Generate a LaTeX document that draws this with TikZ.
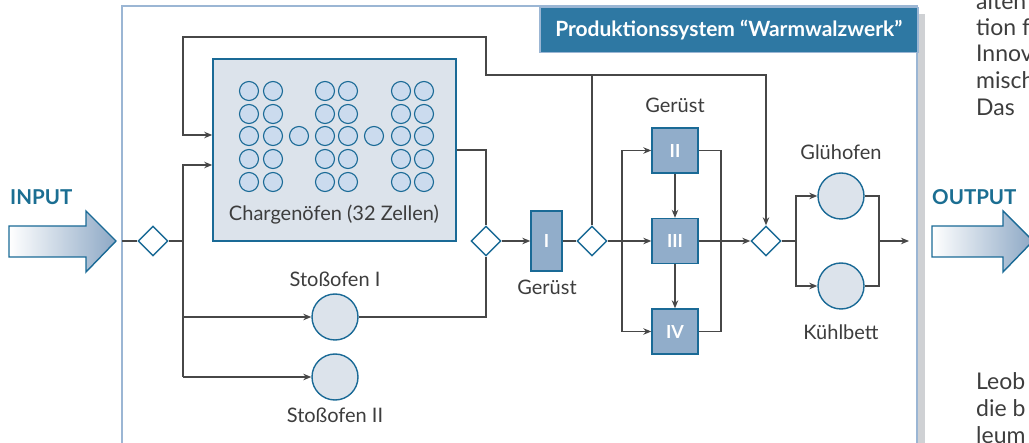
\documentclass[tikz,border=0pt]{standalone}
\usepackage{fontspec}
\setmainfont{Lato}
\usetikzlibrary{shapes.geometric,arrows.meta,calc}
\definecolor{teal}{RGB}{26,106,150}
\definecolor{framecol}{RGB}{155,182,212}
\definecolor{shadowcol}{RGB}{207,209,212}
\definecolor{titlefill}{RGB}{46,120,163}
\definecolor{boxfill}{RGB}{220,227,235}
\definecolor{cellfill}{RGB}{203,219,238}
\definecolor{gfill}{RGB}{145,173,202}
\definecolor{linecol}{RGB}{71,71,71}
\definecolor{txtcol}{RGB}{61,61,61}
\definecolor{iotext}{RGB}{27,110,146}
\definecolor{arrowend}{RGB}{141,168,197}
\begin{document}
\begin{tikzpicture}[x=1pt,y=-1pt,
  lbl/.style={text=txtcol,font=\fontsize{20}{22}\selectfont,inner sep=0pt},
  pagetxt/.style={text=txtcol,font=\fontsize{23}{26}\selectfont,inner sep=0pt,anchor=west},
  furn/.style={circle,draw=teal,line width=1.4pt,fill=boxfill,minimum size=46pt,inner sep=0pt},
  cell/.style={circle,draw=teal,line width=1.1pt,fill=cellfill,minimum size=19pt,inner sep=0pt},
  gbox/.style={rectangle,draw=teal,line width=1.4pt,fill=gfill,inner sep=0pt,text=white,font=\fontsize{18}{20}\selectfont\bfseries},
  dia/.style={diamond,draw=teal,line width=1.4pt,fill=white,minimum width=30pt,minimum height=30pt,inner sep=0pt},
  conn/.style={draw=linecol,line width=1.1pt},
  arr/.style={conn,-{Stealth[length=8pt,width=6.5pt]}},
  iolbl/.style={text=iotext,font=\fontsize{20.5}{24}\selectfont\bfseries,anchor=west,inner sep=0pt},
  bigarrow/.style={draw=teal,line width=1.4pt,left color=white,right color=arrowend}
]
\useasboundingbox (0,0) rectangle (1029,443);
\clip (0,0) rectangle (1029,443);
% frame with shadow
\fill[shadowcol] (917,14) rectangle (925,450);
\draw[framecol,line width=2.2pt,fill=white] (122,6) rectangle (917,460);
% title
\node[draw=framecol,line width=1.5pt,fill=titlefill,minimum width=378pt,minimum height=45pt,inner sep=0pt,anchor=north west,text=white,font=\fontsize{21}{24}\selectfont\bfseries] (title) at (539,7) {Produktionssystem “Warmwalzwerk”};
% input/output arrows
\path[bigarrow] (9,226) -- (86,226) -- (86,211) -- (116,241) -- (86,272) -- (86,257) -- (9,257) -- cycle;
\path[bigarrow] (932,226) -- (1003,226) -- (1003,211) -- (1033,241) -- (1003,272) -- (1003,257) -- (932,257) -- cycle;
\node[iolbl] (inlbl) at (10,197) {INPUT};
\node[iolbl] (outlbl) at (932,197) {OUTPUT};
% page text fragments
\node[pagetxt] (p0) at (976,1) {alten};
\node[pagetxt] (p1) at (976,27) {tion f};
\node[pagetxt] (p2) at (976,53) {Innov};
\node[pagetxt] (p3) at (976,80) {misch};
\node[pagetxt] (p4) at (976,107) {Das};
\node[pagetxt] (p5) at (976,381) {Leob};
\node[pagetxt] (p6) at (976,408) {die b};
\node[pagetxt] (p7) at (976,435) {leum};
% Chargenoefen
\node[rectangle,draw=teal,line width=1.6pt,fill=boxfill,minimum width=243pt,minimum height=182pt,inner sep=0pt] (ch) at (334.5,150) {};
\foreach \cx in {249,273,325,348,401,424}{
  \foreach \cy in {91,114,136,159,182}{
    \node[cell] at (\cx,\cy) {};
  }
}
\node[cell] (c1) at (299,136) {};
\node[cell] (c2) at (374,136) {};
\node[lbl] (chl) at (334,215) {Chargenöfen (32 Zellen)};
% diamonds
\node[dia] (d1) at (153,241) {};
\node[dia] (d2) at (486,241) {};
\node[dia] (d3) at (592,241) {};
\node[dia] (d4) at (766,241) {};
% furnaces
\node[furn] (s1) at (335,317) {};
\node[furn] (s2) at (335,377) {};
\node[lbl] (s1l) at (335,279) {Stoßofen I};
\node[lbl] (s2l) at (335,415) {Stoßofen II};
\node[furn] (gl) at (841,196) {};
\node[furn] (kb) at (841,286) {};
\node[lbl] (gll) at (841,152) {Glühofen};
\node[lbl] (kbl) at (841,332) {Kühlbett};
% stands
\node[gbox,minimum width=31pt,minimum height=60pt] (g1) at (546.5,241) {I};
\node[lbl] (g1l) at (547,287) {Gerüst};
\node[gbox,minimum width=46pt,minimum height=45pt] (g2) at (675,150.5) {II};
\node[gbox,minimum width=46pt,minimum height=45pt] (g3) at (675,241) {III};
\node[gbox,minimum width=46pt,minimum height=45pt] (g4) at (675,331.5) {IV};
\node[lbl] (g2l) at (675,105) {Gerüst};
% junction coordinates
\coordinate (in) at (122,241);
\coordinate (j1) at (183,241);
\coordinate (j1b) at (183,377);
\coordinate (top1) at (183,37);
\coordinate (top2) at (486,37);
\coordinate (loop1) at (486,75);
\coordinate (loop2) at (592,75);
\coordinate (j2) at (622,241);
\coordinate (m2) at (721,241);
\coordinate (j3) at (796,241);
\coordinate (m3) at (879,241);
\coordinate (out) at (909,241);
% connectors
\draw[conn] (in) -- (d1.west);
\draw[conn] (d1.east) -- (j1);
\draw[arr] (j1) |- ([yshift=-15pt]ch.west);
\draw[conn] (j1) -- (j1b);
\draw[arr] (j1 |- s1) -- (s1.west);
\draw[arr] (j1b) -- (s2.west);
\draw[conn] (ch.east) -| (d2.north);
\draw[conn] (s1.east) -| (d2.south);
\draw[arr] (d2.east) -- (g1.west);
\draw[conn] (g1.east) -- (d3.west);
\draw[arr] (d3.north) -- (loop2) -- (loop1) -- (top2) -- (top1) |- ([yshift=15pt]ch.west);
\draw[arr] (loop2) -| (d4.north);
\draw[conn] (d3.east) -- (j2);
\draw[arr] (j2) -- (g3.west);
\draw[arr] (j2) |- (g2.west);
\draw[arr] (j2) |- (g4.west);
\draw[arr] (g2.south) -- (g3.north);
\draw[arr] (g3.south) -- (g4.north);
\draw[conn] (g2.east) -| (m2) |- (g4.east);
\draw[arr] (g3.east) -- (d4.west);
\draw[conn] (d4.east) -- (j3);
\draw[arr] (j3) |- (gl.west);
\draw[arr] (j3) |- (kb.west);
\draw[conn] (gl.east) -| (m3) |- (kb.east);
\draw[arr] (m3) -- (out);
\end{tikzpicture}
\end{document}
